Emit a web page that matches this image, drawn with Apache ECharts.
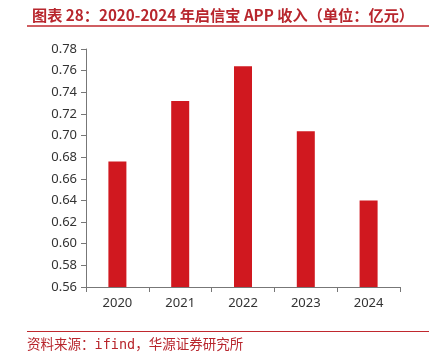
<!DOCTYPE html>
<html>
<head>
<meta charset="utf-8">
<script src="https://cdn.jsdelivr.net/npm/echarts@6/dist/echarts.min.js"></script>
<style>
html,body{margin:0;padding:0;background:#fff;}
#c{width:429px;height:356px;}
</style>
</head>
<body>
<div id="c"></div>
<script>
var titleText = '图表 28：2020-2024 年启信宝 APP 收入（单位：亿元）';
var sourceText = '资料来源：ifind，华源证券研究所';
var categories = ['2020', '2021', '2022', '2023', '2024'];
var revenue = [0.676, 0.732, 0.764, 0.704, 0.640];
var yMin = 0.56, yMax = 0.78, yStep = 0.02;

var chart = echarts.init(document.getElementById('c'), null, {renderer: 'canvas'});
chart.setOption({
  animation: false,
  backgroundColor: '#fff',
  title: {
    text: titleText,
    left: 27, top: 3,
    textStyle: {color: '#b8262d', fontSize: 15.2, fontWeight: 'bold', fontFamily: 'Noto Sans CJK SC'}
  },
  graphic: [
    {type: 'line', shape: {x1: 27, y1: 26, x2: 429, y2: 26}, style: {stroke: '#c0282e', lineWidth: 1.5}},
    {type: 'line', shape: {x1: 27, y1: 331.5, x2: 429, y2: 331.5}, style: {stroke: '#c0282e', lineWidth: 1}},
    {type: 'text', left: 27, top: 339, style: {text: sourceText, fill: '#b8262d', font: '13.5px "DejaVu Sans Mono", "Noto Sans CJK SC"'}}
  ],
  grid: {left: 86, right: 29, top: 49, bottom: 69, containLabel: false},
  xAxis: {
    type: 'category',
    data: categories,
    axisLine: {lineStyle: {color: '#777', width: 1}},
    axisTick: {show: true, length: 5, lineStyle: {color: '#777'}},
    axisLabel: {color: '#333', fontSize: 13, margin: 10, fontFamily: 'Noto Sans'}
  },
  yAxis: {
    type: 'value',
    min: yMin, max: yMax, interval: yStep,
    axisLine: {show: true, lineStyle: {color: '#777', width: 1}},
    axisTick: {show: true, length: 5, lineStyle: {color: '#777'}},
    splitLine: {show: false},
    axisLabel: {color: '#333', fontSize: 13, margin: 9, fontFamily: 'Noto Sans',
      formatter: function (v) { return v.toFixed(2); }}
  },
  series: [{
    type: 'bar',
    data: revenue,
    barWidth: 18,
    itemStyle: {color: '#d0181f'}
  }]
});
</script>
</body>
</html>
